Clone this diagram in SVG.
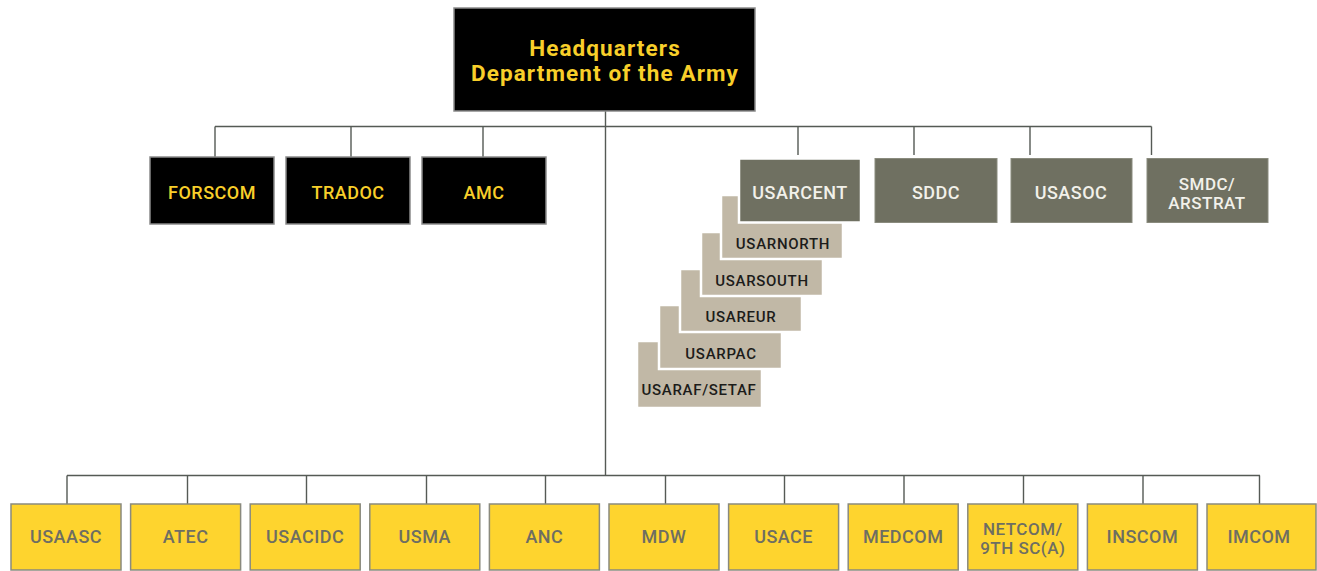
<svg xmlns="http://www.w3.org/2000/svg" width="1317" height="571" viewBox="0 0 1317 571">
<style>
text{font-family:Roboto,"Liberation Sans",sans-serif;font-weight:500;text-anchor:middle;letter-spacing:0.5px}
.blk{fill:#000;stroke:#8a8a8a;stroke-width:1.5}
.gry{fill:#6f7061;stroke:#8a8b7e;stroke-width:1}
.tan{fill:#c1b8a6;stroke:#fff;stroke-width:2.5}
.yel{fill:#fed42e;stroke:#8a8a7e;stroke-width:1.5}
.ty{fill:#f8cf2a;font-size:18px}
.tw{fill:#f2f1ea;font-size:18px}
.tt{fill:#1c1c1a;font-size:15px;letter-spacing:0.7px}
.tg{fill:#6e6e62;font-size:18px}
.two{font-size:17px}
.hq{fill:#f8cf2a;font-size:22.5px;font-weight:700;letter-spacing:1.1px}
.ln{fill:none;stroke:#555a55;stroke-width:1.4}
</style>
<g id="connectors" class="ln">
<path d="M605.5 111V475.5"/>
<path d="M215 126.5H1151.5"/>
<path d="M215 126.5V157M351 126.5V157M483 126.5V157"/>
<path d="M798 126.5V155M914 126.5V155M1030 126.5V155M1151.5 126.5V155"/>
<path d="M67 475.5H1260"/>
<path d="M67 475.5V504M187.5 475.5V504M306.5 475.5V504M426.5 475.5V504M545.5 475.5V504M665.5 475.5V504M784.5 475.5V504M904 475.5V504M1023.5 475.5V504M1143 475.5V504M1259.5 475.5V504"/>
</g>
<g id="hq"><rect class="blk" x="454" y="8" width="301" height="103"/><text class="hq" x="605" y="56">Headquarters</text><text class="hq" x="605" y="81">Department of the Army</text></g>
<g id="forscom"><rect class="blk" x="150" y="157" width="124" height="67"/><text class="ty" x="212" y="199">FORSCOM</text></g>
<g id="tradoc"><rect class="blk" x="286" y="157" width="124" height="67"/><text class="ty" x="348" y="199">TRADOC</text></g>
<g id="amc"><rect class="blk" x="422" y="157" width="124" height="67"/><text class="ty" x="484" y="199">AMC</text></g>
<g id="usaraf"><rect class="tan" x="637" y="341" width="125" height="67"/><text class="tt" x="699" y="395">USARAF/SETAF</text></g>
<g id="usarpac"><rect class="tan" x="659" y="305" width="123" height="64"/><text class="tt" x="721" y="359">USARPAC</text></g>
<g id="usareur"><rect class="tan" x="680" y="269" width="122" height="63"/><text class="tt" x="741" y="322">USAREUR</text></g>
<g id="usarsouth"><rect class="tan" x="701" y="232" width="122" height="64"/><text class="tt" x="762" y="286">USARSOUTH</text></g>
<g id="usarnorth"><rect class="tan" x="721" y="195" width="122" height="64"/><text class="tt" x="783" y="249">USARNORTH</text></g>
<g id="usarcent"><rect class="gry" x="739" y="158.5" width="122" height="64" style="stroke:#fff;stroke-width:2.5"/><text class="tw" x="800" y="199">USARCENT</text></g>
<g id="sddc"><rect class="gry" x="875" y="158.5" width="122" height="64"/><text class="tw" x="936" y="199">SDDC</text></g>
<g id="usasoc"><rect class="gry" x="1011" y="158.5" width="121" height="64"/><text class="tw" x="1071" y="199">USASOC</text></g>
<g id="smdc"><rect class="gry" x="1147" y="158.5" width="121" height="64"/><text class="tw two" x="1207" y="190">SMDC/</text><text class="tw two" x="1207" y="208.5">ARSTRAT</text></g>
<g id="usaasc"><rect class="yel" x="11" y="504" width="110" height="66"/><text class="tg" x="66" y="543">USAASC</text></g>
<g id="atec"><rect class="yel" x="130.6" y="504" width="110" height="66"/><text class="tg" x="185.6" y="543">ATEC</text></g>
<g id="usacidc"><rect class="yel" x="250.2" y="504" width="110" height="66"/><text class="tg" x="305.2" y="543">USACIDC</text></g>
<g id="usma"><rect class="yel" x="369.8" y="504" width="110" height="66"/><text class="tg" x="424.8" y="543">USMA</text></g>
<g id="anc"><rect class="yel" x="489.4" y="504" width="110" height="66"/><text class="tg" x="544.4" y="543">ANC</text></g>
<g id="mdw"><rect class="yel" x="609" y="504" width="110" height="66"/><text class="tg" x="664" y="543">MDW</text></g>
<g id="usace"><rect class="yel" x="728.6" y="504" width="110" height="66"/><text class="tg" x="783.6" y="543">USACE</text></g>
<g id="medcom"><rect class="yel" x="848.2" y="504" width="110" height="66"/><text class="tg" x="903.2" y="543">MEDCOM</text></g>
<g id="netcom"><rect class="yel" x="967.8" y="504" width="110" height="66"/><text class="tg two" x="1022.8" y="535">NETCOM/</text><text class="tg two" x="1022.8" y="553.5">9TH SC(A)</text></g>
<g id="inscom"><rect class="yel" x="1087.4" y="504" width="110" height="66"/><text class="tg" x="1142.4" y="543">INSCOM</text></g>
<g id="imcom"><rect class="yel" x="1207" y="504" width="109" height="66"/><text class="tg" x="1259" y="543">IMCOM</text></g>
</svg>
